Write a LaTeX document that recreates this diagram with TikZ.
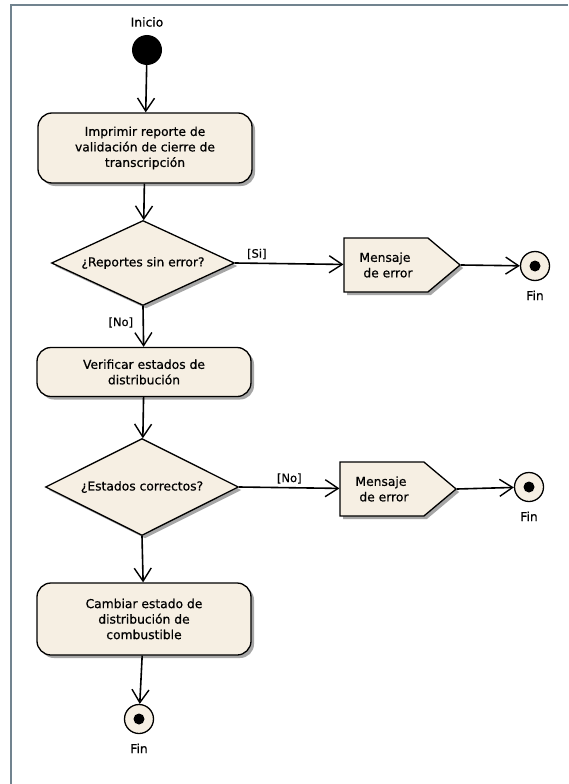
\documentclass[tikz,border=0pt]{standalone}
\usepackage{fontspec}
\setmainfont{DejaVu Sans}[FakeBold=0.6,AutoFakeBold=0.6]
\usetikzlibrary{positioning,shapes.geometric,shapes.symbols,shadows,arrows.meta}
\definecolor{crema}{HTML}{F6EFE3}
\definecolor{marco}{HTML}{71838F}
\begin{document}
\begin{tikzpicture}[x=1pt,y=-1pt,
  font=\fontsize{12.3}{15.5}\selectfont,
  flujo/.style={line width=1.6pt, -{Straight Barb[length=13pt,width=17pt,line width=1.4pt]}},
  sombra/.style={drop shadow={shadow xshift=3pt, shadow yshift=-3pt, fill=black!35, opacity=1}},
  accion/.style={rectangle, rounded corners=14pt, draw, line width=1.3pt, fill=crema, sombra,
    minimum width=214pt, align=center},
  decision/.style={diamond, draw, line width=1.3pt, fill=crema, sombra, inner sep=0pt},
  mensaje/.style={signal, signal to=east, signal pointer angle=80, draw, line width=1.3pt,
    fill=crema, sombra, minimum width=116pt, minimum height=54pt, align=left, inner xsep=6pt},
  inicial/.style={circle, fill=black, minimum size=30pt, inner sep=0pt},
  fin/.style={circle, draw, line width=1.3pt, fill=crema, minimum size=29pt, inner sep=0pt,
    path picture={\fill[black] (path picture bounding box.center) circle (5.5pt);}},
  guarda/.style={font=\fontsize{11.5}{12}\selectfont\bfseries}]
\useasboundingbox (0,0) rectangle (568,784);
\fill[white] (0,0) rectangle (568,784);
\draw[marco, line width=2.2pt] (11,784) -- (11,5) -- (568,5);

\node[font=\fontsize{12.3}{15.5}\selectfont\bfseries] (inicio) at (147,22) {Inicio};
\node[inicial] (start) at (147,50) {};
\node[accion, minimum height=70pt] (imprimir) at (145,148)
  {Imprimir reporte de\\validación de cierre de\\transcripción};
\node[decision, minimum width=183pt, minimum height=85pt,
  label=center:{¿Reportes sin error?}] (reportes) at (143,263) {};
\node[mensaje] (msg1) at (386,265) {Mensaje\\\ de error};
\node[fin] (fin1) at (535,266) {};
\node[below=6pt of fin1] (fin1lbl) {Fin};

\node[accion, minimum height=49pt] (verificar) at (144,372)
  {Verificar estados de\\distribución};
\node[decision, minimum width=193pt, minimum height=97pt,
  label=center:{¿Estados correctos?}] (estados) at (142,487) {};
\node[mensaje] (msg2) at (382,489) {Mensaje\\\ de error};
\node[fin] (fin2) at (529,487) {};
\node[below=6pt of fin2] (fin2lbl) {Fin};

\node[accion, minimum height=72pt] (cambiar) at (144,619)
  {Cambiar estado de\\distribución de\\combustible};
\node[fin] (fin3) at (139,719) {};
\node[below=6pt of fin3] (fin3lbl) {Fin};

\draw[flujo] (start) -- (imprimir);
\draw[flujo] (imprimir) -- (reportes);
\draw[flujo] (reportes.east) -- node[guarda, above, pos=0.2] {[Si]} (msg1);
\draw[flujo] (msg1.east) -- (fin1);
\draw[flujo] (reportes.south) -- node[guarda, left=6pt, pos=0.4] {[No]} (verificar);
\draw[flujo] (verificar) -- (estados);
\draw[flujo] (estados.east) -- node[guarda, above, pos=0.5] {[No]} (msg2);
\draw[flujo] (msg2.east) -- (fin2);
\draw[flujo] (estados.south) -- (cambiar);
\draw[flujo] (cambiar) -- (fin3);
\end{tikzpicture}
\end{document}
